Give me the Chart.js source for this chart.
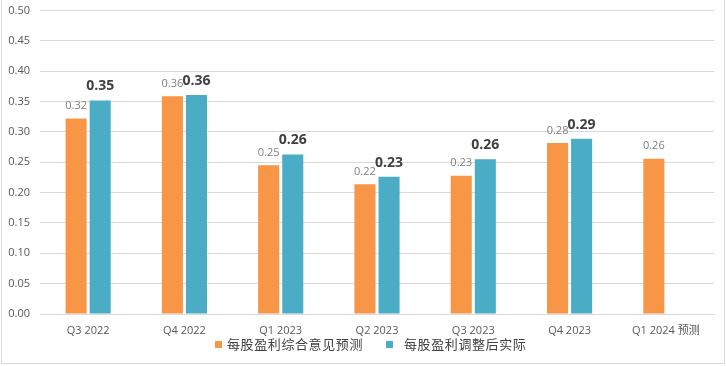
<!DOCTYPE html>
<html>
<head>
<meta charset="utf-8">
<script src="https://cdn.jsdelivr.net/npm/chart.js@4/dist/chart.umd.min.js"></script>
<style>
  html, body { margin: 0; padding: 0; background: #fff; overflow: hidden; }
  #cadre { position: absolute; left: 1px; top: -1px; width: 722px; height: 363px; border: 1px solid #d9d9d9; }
  #graph { position: absolute; left: 0; top: -6px; }
  #legende { position: absolute; left: 215px; top: 335px; display: flex; align-items: center; font-family: 'Noto Sans CJK SC', sans-serif; font-size: 13px; letter-spacing: 0.6px; color: #404040; line-height: 18px; white-space: nowrap; }
  #legende span.carre { display: inline-block; width: 7px; height: 7px; }
  #legende .item { display: flex; align-items: center; }
</style>
</head>
<body>
<div id="cadre"></div>
<canvas id="graph" width="726" height="372"></canvas>
<div id="legende"></div>
<script>
// Données
const trimestres = ['Q3 2022', 'Q4 2022', 'Q1 2023', 'Q2 2023', 'Q3 2023', 'Q4 2023', 'Q1 2024 预测'];
const previsions = [0.322, 0.359, 0.245, 0.214, 0.228, 0.282, 0.256];
const reels = [0.352, 0.361, 0.263, 0.226, 0.255, 0.289, null];
const etiquettesPrevisions = ['0.32', '0.36', '0.25', '0.22', '0.23', '0.28', '0.26'];
const etiquettesReels = ['0.35', '0.36', '0.26', '0.23', '0.26', '0.29', ''];
const graduations = [0, 0.05, 0.1, 0.15, 0.2, 0.25, 0.3, 0.35, 0.4, 0.45, 0.5];
const series = ['每股盈利综合意见预测', '每股盈利调整后实际'];
const couleurs = ['#F79646', '#4BACC6'];

const police = "'Open Sans', 'Noto Sans CJK SC', sans-serif";

// Étiquettes au-dessus des barres
const pluginEtiquettes = {
  id: 'etiquettes',
  afterDatasetsDraw(chart) {
    const ctx = chart.ctx;
    const styles = [
      { textes: etiquettesPrevisions, font: '11px ' + police, color: '#7f7f7f', decal: 7 },
      { textes: etiquettesReels, font: 'bold 14px ' + police, color: '#404040', decal: 7 }
    ];
    ctx.save();
    ctx.textAlign = 'center';
    ctx.textBaseline = 'bottom';
    styles.forEach((s, i) => {
      chart.getDatasetMeta(i).data.forEach((bar, j) => {
        if (!s.textes[j] || chart.data.datasets[i].data[j] == null) return;
        ctx.font = s.font;
        ctx.fillStyle = s.color;
        ctx.fillText(s.textes[j], bar.x, bar.y - s.decal);
      });
    });
    ctx.restore();
  }
};

new Chart(document.getElementById('graph'), {
  type: 'bar',
  data: {
    labels: trimestres,
    datasets: series.map((nom, i) => ({
      label: nom,
      data: i === 0 ? previsions : reels,
      backgroundColor: couleurs[i],
      borderWidth: 0
    }))
  },
  options: {
    responsive: false,
    animation: false,
    datasets: { bar: { categoryPercentage: 0.5, barPercentage: 0.875 } },
    layout: { padding: { left: 4, right: 12, top: 0, bottom: 22 } },
    plugins: {
      legend: { display: false },
      tooltip: { enabled: false }
    },
    scales: {
      x: {
        grid: { display: false },
        border: { color: '#d9d9d9' },
        afterFit: (scale) => { scale.height = 30; },
        ticks: { color: '#595959', font: { size: 11, family: police }, padding: 2 }
      },
      y: {
        min: 0, max: 0.5,
        afterBuildTicks: (scale) => { scale.ticks = graduations.map(v => ({ value: v })); },
        afterFit: (scale) => { scale.width = 36; },
        grid: { color: '#d9d9d9', drawTicks: false },
        border: { display: false },
        ticks: {
          color: '#595959', padding: 10,
          font: { size: 11, family: police },
          callback: (v) => v.toFixed(2)
        }
      }
    }
  },
  plugins: [pluginEtiquettes]
});

// Légende HTML
const legende = document.getElementById('legende');
const marges = [[0, 5], [23, 11]]; // [avant l'élément, après le carré]
series.forEach((nom, i) => {
  const item = document.createElement('div');
  item.className = 'item';
  item.style.marginLeft = marges[i][0] + 'px';
  item.innerHTML = `<span class="carre" style="background:${couleurs[i]};margin-right:${marges[i][1]}px"></span><span>${nom}</span>`;
  legende.appendChild(item);
});
</script>
</body>
</html>
